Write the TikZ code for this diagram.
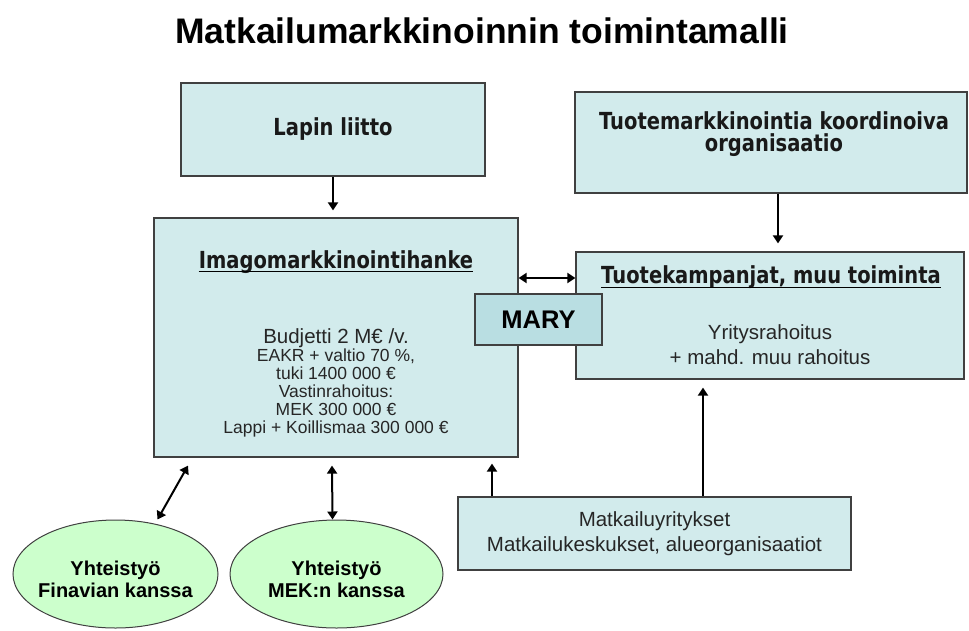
\documentclass[tikz,border=0pt]{standalone}
\usepackage{fontspec}
\setmainfont{Liberation Sans}
\newfontfamily\boxfont{DejaVu Sans}[FakeStretch=0.83]
\usetikzlibrary{arrows.meta,shapes.geometric}
\definecolor{boxfill}{HTML}{D2EBEC}
\definecolor{maryfill}{HTML}{B9DEE2}
\definecolor{ovalfill}{HTML}{CCFFCC}
\definecolor{edge}{HTML}{404040}
\newcommand{\fsize}[2]{\fontsize{#1}{#2}\selectfont}

\begin{document}
\begin{tikzpicture}[x=1pt,y=-1pt,
  box/.style={draw=edge,line width=1.2pt,fill=boxfill,inner sep=0pt},
  oval/.style={ellipse,draw=edge,line width=1pt,fill=ovalfill,inner sep=0pt},
  ovaltext/.style={inner sep=0pt,align=center,font=\bfseries\fsize{20}{22}},
  head/.style={inner sep=0pt,anchor=base,font=\boxfont\bfseries\fsize{23.5}{22},text=black!90},
  plain/.style={inner sep=0pt,align=center,text=black!85},
  arr/.style={line width=2pt,-{Triangle[length=8pt,width=10pt]}},
  dbl/.style={line width=2pt,{Triangle[length=8pt,width=10pt]}-{Triangle[length=8pt,width=10pt]}},
  ul/.style={line width=1.6pt}]
\useasboundingbox (0,0) rectangle (969,630);

% title
\node (title) at (482,31) {\bfseries\fsize{35.5}{40}Matkailumarkkinoinnin toimintamalli};

% boxes
\node [box,minimum width=304,minimum height=93,font=\boxfont\bfseries\fsize{23.5}{22},text=black!90] (lapin) at (333,129.5) {Lapin liitto};
\node [box,minimum width=392,minimum height=101] (tuote) at (771,142.5) {};
\node [head,anchor=center,align=center] (tuotetext) at (774,134)
  {Tuotemarkkinointia koordinoiva\\organisaatio};
\node [box,minimum width=364,minimum height=239] (imago) at (336,337.5) {};
\node [head] (imagohead) at (336,268) {Imagomarkkinointihanke};
\draw [ul] ([yshift=-3.5pt]imagohead.base west) -- ([yshift=-3.5pt]imagohead.base east);
\node [plain,font=\fsize{20.5}{22}] (budjetti) at (336,338) {Budjetti 2 M€ /v.};
\node [plain,font=\fsize{17.5}{17.8}] (rahoitus) at (336,393)
  {EAKR + valtio 70 \%,\\tuki 1400 000 €\\Vastinrahoitus:\\MEK 300 000 €\\Lappi + Koillismaa 300 000 €};
\node [box,minimum width=388,minimum height=127] (kampanja) at (770,315.5) {};
\node [head] (kampanjahead) at (771,283.5) {Tuotekampanjat, muu toiminta};
\draw [ul] ([yshift=-4pt]kampanjahead.base west) -- ([yshift=-4pt]kampanjahead.base east);
\node [plain,font=\fsize{20.5}{25}] (yritysraha) at (770,345) {Yritysrahoitus\\+ mahd. muu rahoitus};
\node [box,fill=maryfill,minimum width=127,minimum height=51,font=\bfseries\fsize{25.5}{28}] (mary) at (538.5,319.5) {MARY};
\node [box,minimum width=393,minimum height=73,align=center,text=black!85,font=\fsize{20.5}{25}] (yritykset) at (654.5,533.5)
  {Matkailuyritykset\\Matkailukeskukset, alueorganisaatiot};

% ellipses
\node [oval,minimum width=205,minimum height=108] (finavia) at (115.5,574) {};
\node [ovaltext] (finaviatext) at ([yshift=-5pt]finavia.center) {Yhteistyö\\Finavian kanssa};
\node [oval,minimum width=213,minimum height=108] (mek) at (336.5,574) {};
\node [ovaltext] (mektext) at ([yshift=-5pt]mek.center) {Yhteistyö\\MEK:n kanssa};

% connectors
\draw [arr,shorten >=7pt] (lapin.south) -- (lapin.south |- imago.north);
\draw [arr,shorten >=8pt] ([xshift=7pt]tuote.south) -- ([xshift=7pt]tuote.south |- kampanja.north);
\coordinate (link) at ([yshift=37.5pt]kampanja.west);
\draw [dbl] (link) -- (link -| imago.east);
\draw [dbl] ([xshift=42pt]finavia.north) -- ([xshift=-148pt,yshift=-8pt]imago.south);
\draw [dbl] ([xshift=-4pt]mek.north) -- ([xshift=-4pt,yshift=-8pt]imago.south);
\draw [arr,shorten >=6pt] ([xshift=-162.5pt]yritykset.north) -- ([xshift=-162.5pt]yritykset.north |- imago.south);
\draw [arr,shorten >=8pt] ([xshift=48.5pt]yritykset.north) -- ([xshift=48.5pt]yritykset.north |- kampanja.south);
\end{tikzpicture}
\end{document}
